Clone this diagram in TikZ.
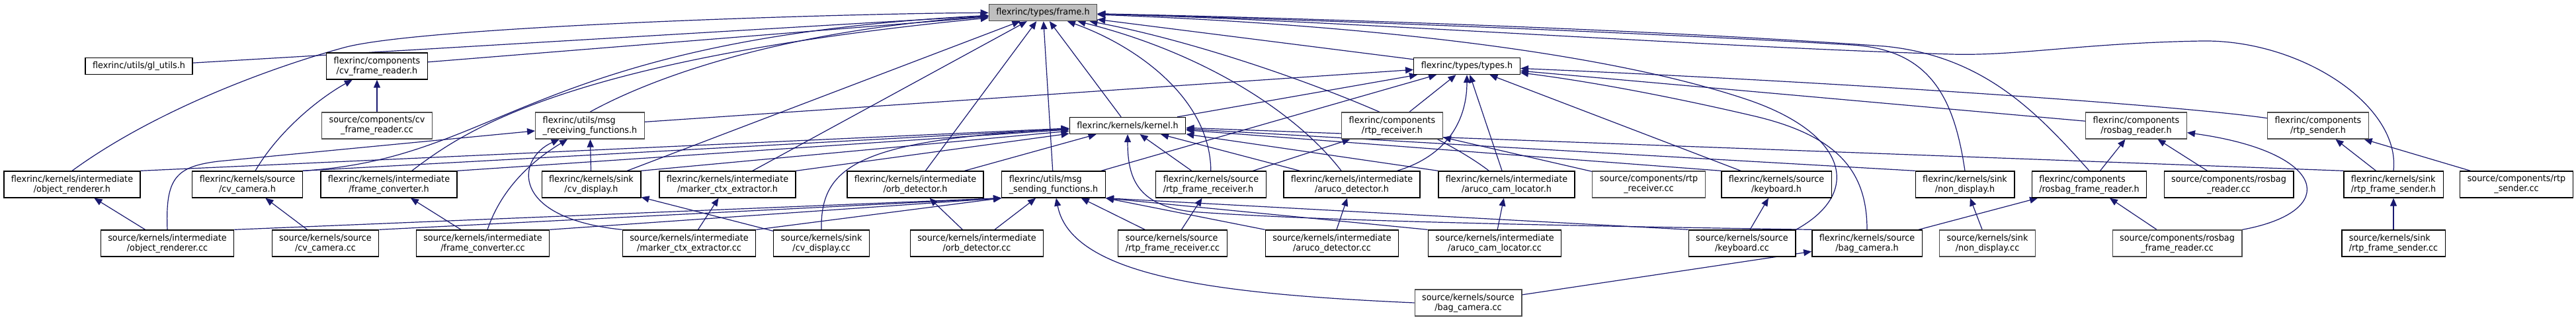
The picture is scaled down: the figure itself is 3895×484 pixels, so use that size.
\documentclass[tikz,border=0pt]{standalone}
\usepackage{fontspec}
\setmainfont{DejaVu Sans}[FakeStretch=0.95]
\usepackage{xcolor}
\usepackage{tikz}
\usetikzlibrary{arrows.meta,backgrounds}
\definecolor{incblue}{HTML}{191970}
\definecolor{rootgray}{HTML}{BFBFBF}

\begin{document}
\begin{tikzpicture}[x=0.75pt,y={(0pt,-0.75pt)},
  filebox/.style={draw=black,fill=white,line width=1pt,align=center,
                  font=\fontsize{10.1pt}{11.25pt}\selectfont,
                  inner xsep=8.25pt,inner ysep=1pt,minimum height=30pt},
  oneline/.style={minimum height=18.75pt},
  leftbox/.style={align=left},
  greybox/.style={draw=black!70},
  rootbox/.style={fill=rootgray,draw=black!70},
  inc/.style={-{Triangle[length=9pt,width=7.5pt]},incblue,line width=0.9pt}
]
% Root header
\node[filebox,oneline,rootbox] (frame) at (1577,19) {flexrinc/types/frame.h};
% First level
\node[filebox,oneline] (gl) at (210,100) {flexrinc/utils/gl\_utils.h};
\node[filebox] (cvfr_h) at (570,100) {flexrinc/components\\/cv\_frame\_reader.h};
\node[filebox,oneline] (types) at (2218,100) {flexrinc/types/types.h};
% Second level
\node[filebox,greybox] (cvfr_cc) at (570,190) {source/components/cv\\\_frame\_reader.cc};
\node[filebox,greybox,leftbox] (mrecv) at (892,190) {flexrinc/utils/msg\\\_receiving\_functions.h};
\node[filebox,oneline] (kernel) at (1705,190) {flexrinc/kernels/kernel.h};
\node[filebox,greybox] (rtprecv_h) at (2105,190) {flexrinc/components\\/rtp\_receiver.h};
\node[filebox,greybox] (rosbagr_h) at (3230,190) {flexrinc/components\\/rosbag\_reader.h};
\node[filebox,greybox] (rtpsend_h) at (3505,190) {flexrinc/components\\/rtp\_sender.h};
% Kernel headers
\node[filebox] (objr_h) at (109,279) {flexrinc/kernels/intermediate\\/object\_renderer.h};
\node[filebox] (cvcam_h) at (374,279) {flexrinc/kernels/source\\/cv\_camera.h};
\node[filebox] (fconv_h) at (588,279) {flexrinc/kernels/intermediate\\/frame\_converter.h};
\node[filebox] (cvdisp_h) at (894,279) {flexrinc/kernels/sink\\/cv\_display.h};
\node[filebox] (marker_h) at (1100,279) {flexrinc/kernels/intermediate\\/marker\_ctx\_extractor.h};
\node[filebox] (orb_h) at (1384,279) {flexrinc/kernels/intermediate\\/orb\_detector.h};
\node[filebox,leftbox] (msend) at (1593,279) {flexrinc/utils/msg\\\_sending\_functions.h};
\node[filebox,leftbox] (rtpfr_h) at (1831,279) {flexrinc/kernels/source\\/rtp\_frame\_receiver.h};
\node[filebox] (arucod_h) at (2044,279) {flexrinc/kernels/intermediate\\/aruco\_detector.h};
\node[filebox] (arucoc_h) at (2278,279) {flexrinc/kernels/intermediate\\/aruco\_cam\_locator.h};
\node[filebox,greybox] (rtprecv_cc) at (2493,279) {source/components/rtp\\\_receiver.cc};
\node[filebox] (kbd_h) at (2686,279) {flexrinc/kernels/source\\/keyboard.h};
\node[filebox] (nondisp_h) at (2971,279) {flexrinc/kernels/sink\\/non\_display.h};
\node[filebox,leftbox] (rosbagfr_h) at (3159,279) {flexrinc/components\\/rosbag\_frame\_reader.h};
\node[filebox] (rosbagr_cc) at (3370,279) {source/components/rosbag\\\_reader.cc};
\node[filebox,leftbox] (rtpfs_h) at (3619,279) {flexrinc/kernels/sink\\/rtp\_frame\_sender.h};
\node[filebox] (rtpsend_cc) at (3805,279) {source/components/rtp\\\_sender.cc};
% Sources
\node[filebox] (objr_cc) at (253,368) {source/kernels/intermediate\\/object\_renderer.cc};
\node[filebox] (cvcam_cc) at (492,368) {source/kernels/source\\/cv\_camera.cc};
\node[filebox] (fconv_cc) at (730,368) {source/kernels/intermediate\\/frame\_converter.cc};
\node[filebox] (marker_cc) at (1042,368) {source/kernels/intermediate\\/marker\_ctx\_extractor.cc};
\node[filebox] (cvdisp_cc) at (1242,368) {source/kernels/sink\\/cv\_display.cc};
\node[filebox] (orb_cc) at (1477,368) {source/kernels/intermediate\\/orb\_detector.cc};
\node[filebox,leftbox] (rtpfr_cc) at (1773,368) {source/kernels/source\\/rtp\_frame\_receiver.cc};
\node[filebox] (arucod_cc) at (2014,368) {source/kernels/intermediate\\/aruco\_detector.cc};
\node[filebox] (arucoc_cc) at (2260,368) {source/kernels/intermediate\\/aruco\_cam\_locator.cc};
\node[filebox] (kbd_cc) at (2634,368) {source/kernels/source\\/keyboard.cc};
\node[filebox] (bagcam_h) at (2823,368) {flexrinc/kernels/source\\/bag\_camera.h};
\node[filebox,greybox] (nondisp_cc) at (3005,368) {source/kernels/sink\\/non\_display.cc};
\node[filebox,greybox] (rosbagfr_cc) at (3292,368) {source/components/rosbag\\\_frame\_reader.cc};
\node[filebox,leftbox] (rtpfs_cc) at (3619,368) {source/kernels/sink\\/rtp\_frame\_sender.cc};
\node[filebox,greybox] (bagcam_cc) at (2220,458) {source/kernels/source\\/bag\_camera.cc};

\begin{scope}[on background layer]
\fill[white] (0,0) rectangle (3895,484);
% Into frame.h
\draw[inc] (gl) -- (frame);
\draw[inc] (cvfr_h) -- (frame);
\draw[inc] (objr_h.north) .. controls (230,170) and (400,105) .. (520,72)
  .. controls (640,39) and (1300,20) .. (frame);
\draw[inc] (mrecv.north) .. controls (1000,110) and (1200,45) .. (frame);
\draw[inc] (cvcam_h.north east) .. controls (760,240) and (800,60) .. (frame);
\draw[inc] ([xshift=26pt]fconv_h.north) .. controls (700,200) and (850,90) .. (frame);
\draw[inc] (cvdisp_h) -- (frame);
\draw[inc] (marker_h) -- (frame);
\draw[inc] (orb_h) -- (frame);
\draw[inc] (msend) -- (frame);
\draw[inc] (kernel) -- (frame);
\draw[inc] (rtpfr_h) .. controls (1830,150) and (1720,70) .. (frame);
\draw[inc] (arucod_h) .. controls (1960,170) and (1820,80) .. (frame);
\draw[inc] (arucoc_h) .. controls (2150,180) and (1850,70) .. (frame);
\draw[inc] (types) -- (frame);
\draw[inc] (kbd_cc.north east) .. controls (2820,290) and (2790,200) .. (2640,150)
  .. controls (2400,70) and (2000,35) .. (frame);
\draw[inc] (nondisp_h.north) .. controls (2955,150) and (2920,75) .. (2800,68)
  .. controls (2500,50) and (2000,30) .. (frame);
\draw[inc] (rosbagfr_h.north) .. controls (3080,170) and (3000,85) .. (2850,70)
  .. controls (2500,45) and (2000,28) .. (frame);
\draw[inc] (rtpfs_h.north) .. controls (3630,160) and (3480,60) .. (3330,62)
  .. controls (3150,65) and (3050,85) .. (2950,82)
  .. controls (2600,72) and (2000,30) .. (frame);
% Into types.h
\draw[inc] (mrecv) -- (types);
\draw[inc] (kernel) -- (types);
\draw[inc] (msend) -- (types);
\draw[inc] (rtprecv_h) -- (types);
\draw[inc] (arucod_h) .. controls (2190,235) and (2218,180) .. (types);
\draw[inc] (arucoc_h) -- (types);
\draw[inc] (kbd_h) -- (types);
\draw[inc] (rtpsend_h) .. controls (3300,160) and (2800,125) .. (types);
\draw[inc] (rosbagr_h) -- (types);
\draw[inc] (bagcam_h.north) .. controls (2823,260) and (2780,205) .. (2650,175)
  .. controls (2500,140) and (2380,120) .. (types);
% Into kernel.h
\draw[inc] (objr_h.north east) -- (kernel);
\draw[inc] (cvcam_h.north east) -- (kernel);
\draw[inc] (fconv_h.north east) -- (kernel);
\draw[inc] (cvdisp_h.north east) -- (kernel);
\draw[inc] (marker_h.north east) -- (kernel);
\draw[inc] (cvdisp_cc.north) .. controls (1240,250) and (1300,212) .. (kernel);
\draw[inc] (orb_h) -- (kernel);
\draw[inc] (rtpfr_h) -- (kernel);
\draw[inc] (arucod_h) -- (kernel);
\draw[inc] (arucoc_h.north west) -- (kernel);
\draw[inc] (kbd_h.north west) -- (kernel);
\draw[inc] (nondisp_h.north west) -- (kernel);
\draw[inc] (bagcam_h.north west) .. controls (2400,342) and (2000,335) .. (1800,320)
  .. controls (1720,310) and (1705,270) .. (kernel);
\draw[inc] (rtpfs_h.north west) -- (kernel);
% Into msg_receiving_functions.h
\draw[inc] (cvdisp_h) -- (mrecv);
\draw[inc] (objr_cc.north) .. controls (250,270) and (265,252) .. (330,244) -- (mrecv);
\draw[inc] (fconv_cc) .. controls (760,280) and (810,240) .. (mrecv);
\draw[inc] (marker_cc.north west) .. controls (770,330) and (780,240) .. (mrecv);
% Into msg_sending_functions.h
\draw[inc] (objr_cc.north east) -- (msend.south west);
\draw[inc] (cvcam_cc.north east) -- (msend.south west);
\draw[inc] (fconv_cc.north east) -- (msend.south west);
\draw[inc] (marker_cc.north east) -- (msend.south west);
\draw[inc] (orb_cc) -- (msend);
\draw[inc] (rtpfr_cc) -- (msend);
\draw[inc] (arucod_cc.north west) -- (msend.south east);
\draw[inc] (arucoc_cc.north west) -- (msend.south east);
\draw[inc] (kbd_cc.north west) -- (msend.south east);
\draw[inc] (bagcam_cc.west) .. controls (1850,445) and (1620,420) .. (msend);
% Sources to their headers
\draw[inc] (cvfr_cc) -- (cvfr_h);
\draw[inc] (objr_cc) -- (objr_h);
\draw[inc] (cvcam_cc) -- (cvcam_h);
\draw[inc] (fconv_cc) -- (fconv_h);
\draw[inc] (marker_cc) -- (marker_h);
\draw[inc] (cvdisp_cc) -- (cvdisp_h);
\draw[inc] (orb_cc) -- (orb_h);
\draw[inc] (rtpfr_cc) -- (rtpfr_h);
\draw[inc] (arucod_cc) -- (arucod_h);
\draw[inc] (arucoc_cc) -- (arucoc_h);
\draw[inc] (kbd_cc) -- (kbd_h);
\draw[inc] (nondisp_cc) -- (nondisp_h);
\draw[inc] (rosbagfr_cc) -- (rosbagfr_h);
\draw[inc] (rtpfs_cc) -- (rtpfs_h);
\draw[inc] (bagcam_cc) -- (bagcam_h);
\draw[inc] (rtprecv_cc) -- (rtprecv_h);
\draw[inc] (rosbagr_cc) -- (rosbagr_h);
\draw[inc] (rtpsend_cc) -- (rtpsend_h);
% Components
\draw[inc] (cvcam_h) .. controls (420,200) and (480,150) .. (cvfr_h);
\draw[inc] (bagcam_h) -- (rosbagfr_h);
\draw[inc] (rosbagfr_h) -- (rosbagr_h);
\draw[inc] (rosbagfr_cc.north east) .. controls (3540,320) and (3520,230) .. (rosbagr_h);
\draw[inc] (rtpfs_h) -- (rtpsend_h);
\draw[inc] (rtpfr_h) -- (rtprecv_h);
\end{scope}
\end{tikzpicture}
\end{document}
